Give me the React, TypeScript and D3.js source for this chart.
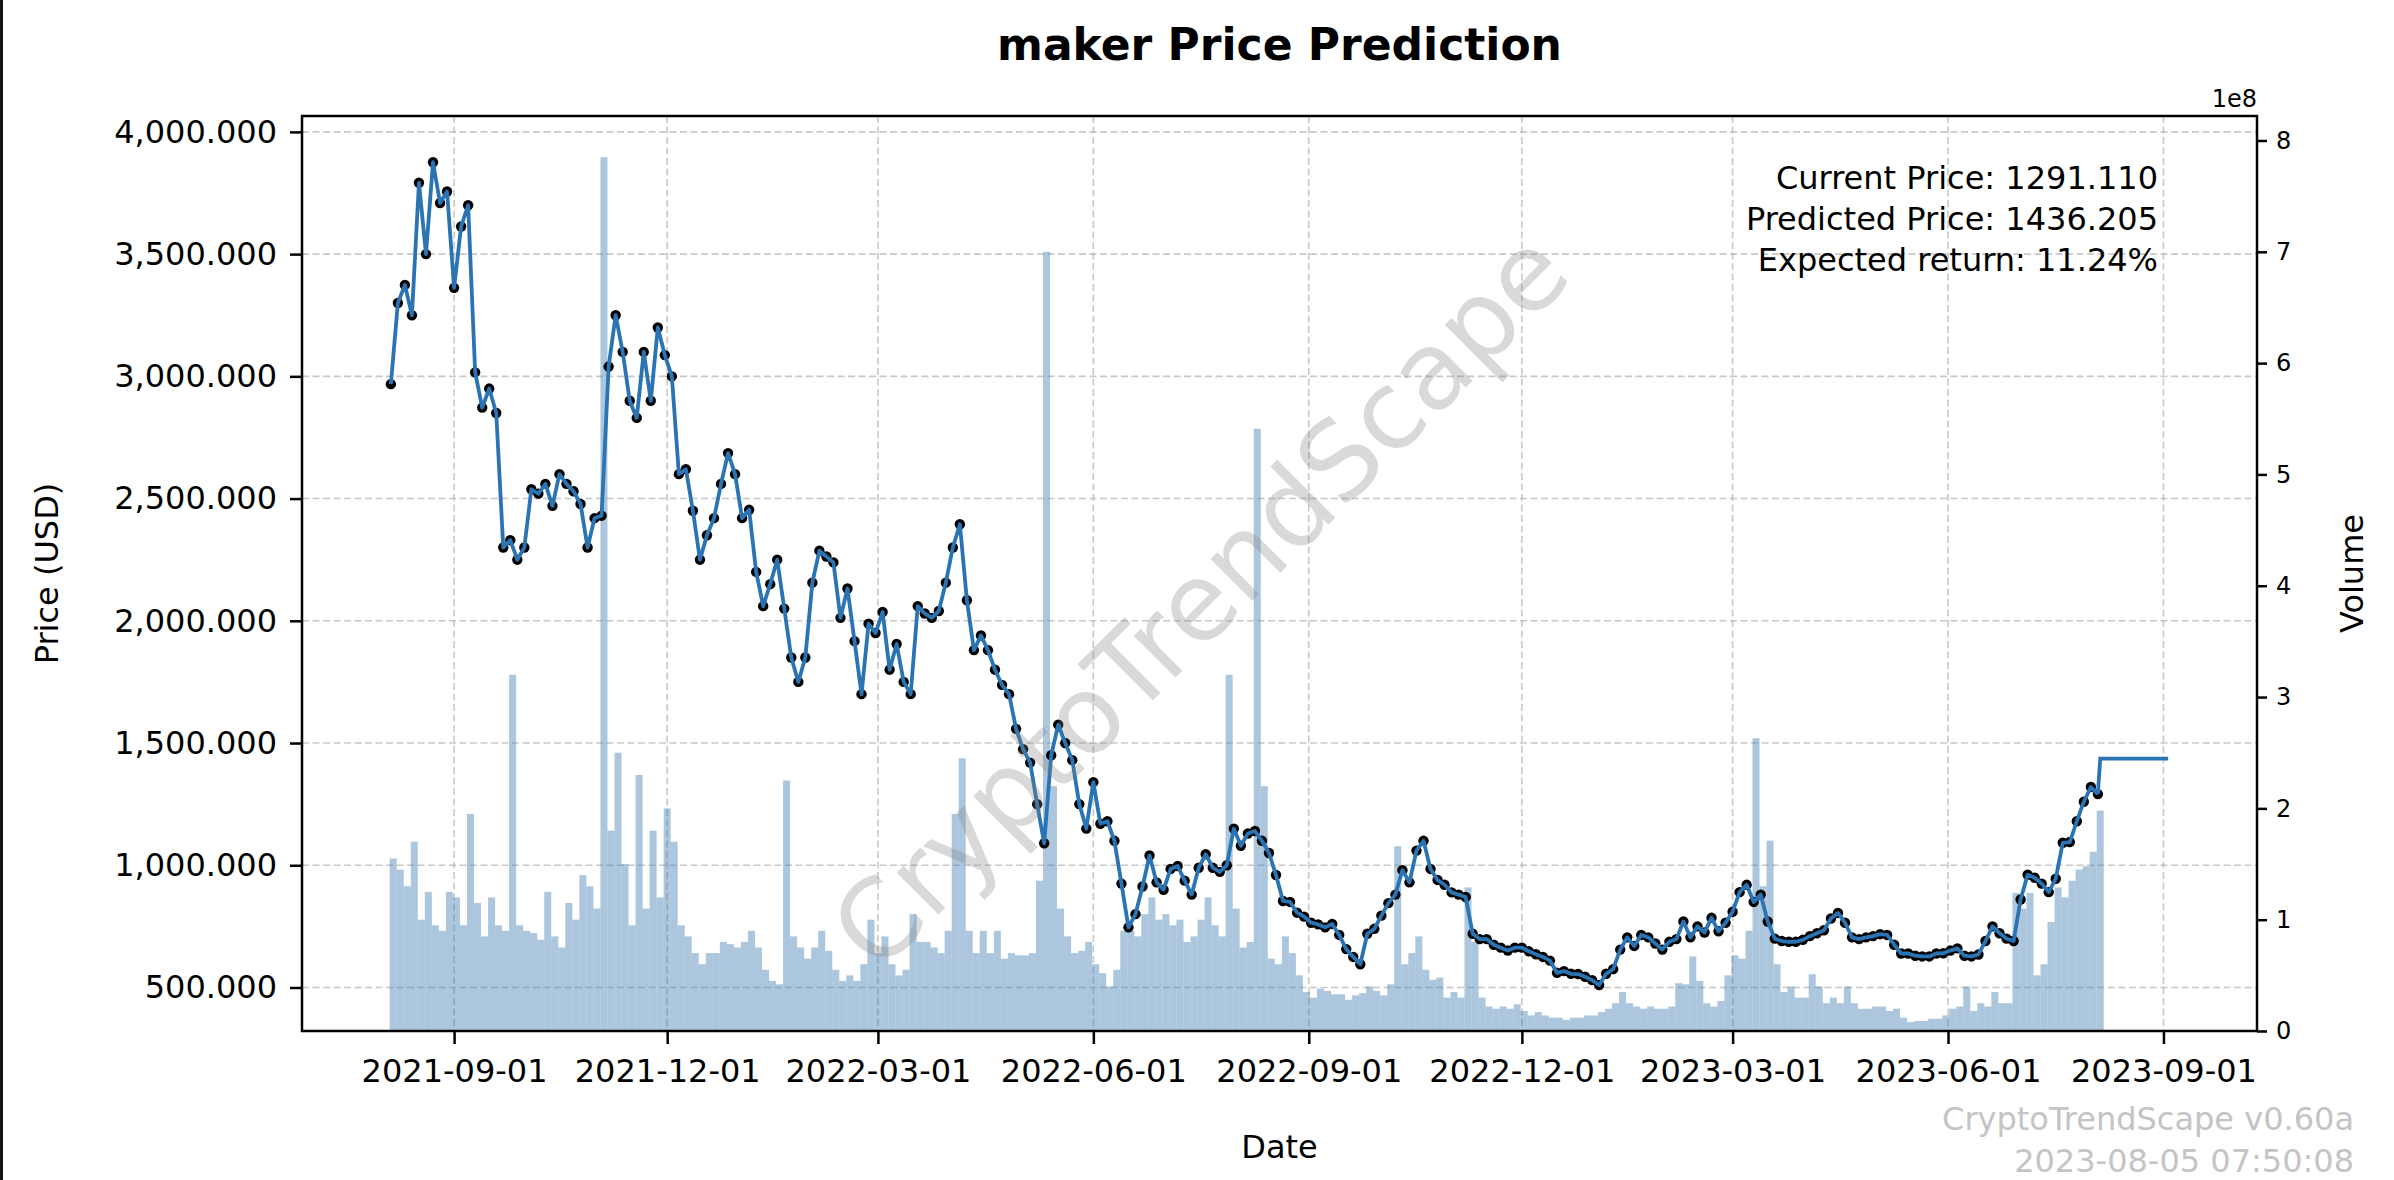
import * as d3 from 'd3';
import { useRef, useEffect } from 'react';

// one sample every 3 days
const START_DATE = '2021-08-05';
const STEP_DAYS = 3;

const prices = [
  2968, 3300, 3374, 3250, 3792, 3500, 3876, 3709, 3756, 3362,
  3613, 3700, 3016, 2872, 2950, 2850, 2300, 2330, 2250, 2300,
  2538, 2520, 2560, 2470, 2600, 2560, 2530, 2478, 2300, 2420,
  2430, 3040, 3250, 3100, 2900, 2830, 3100, 2900, 3200, 3087,
  3000, 2600, 2620, 2450, 2250, 2350, 2420, 2560, 2686, 2600,
  2420, 2454, 2200, 2060, 2150, 2250, 2050, 1850, 1750, 1850,
  2156, 2287, 2263, 2239, 2012, 2132, 1917, 1700, 1988, 1950,
  2036, 1800, 1905, 1750, 1700, 2060, 2030, 2012, 2040, 2156,
  2300, 2395, 2084, 1880, 1940, 1880, 1800, 1738, 1700, 1558,
  1475, 1420, 1250, 1090, 1450, 1575, 1500, 1430, 1250, 1150,
  1340, 1170, 1180, 1100, 925, 746, 800, 913, 1040, 930,
  900, 985, 997, 937, 880, 990, 1045, 990, 973, 1000,
  1150, 1080, 1130, 1140, 1100, 1050, 960, 854, 850, 806,
  790, 765, 758, 746, 760, 715, 657, 625, 595, 720,
  740, 794, 845, 880, 980, 930, 1060, 1100, 985, 940,
  920, 889, 880, 870, 720, 698, 698, 675, 663, 651,
  663, 663, 648, 636, 625, 610, 560, 567, 556, 555,
  544, 530, 510, 556, 575, 655, 705, 670, 715, 705,
  680, 655, 687, 698, 770, 705, 750, 725, 785, 730,
  765, 810, 890, 920, 850, 880, 770, 700, 690, 687,
  687, 695, 710, 722, 734, 782, 805, 765, 705, 698,
  705, 710, 718, 715, 675, 639, 639, 630, 627, 627,
  639, 640, 651, 660, 630, 627, 635, 690, 750, 722,
  700, 690, 860, 961, 949, 925, 890, 945, 1092, 1095,
  1180, 1260, 1320, 1291.11,
];

// volume in units of 1e8, same 3-day steps
const volumesE8 = [
  1.55, 1.45, 1.3, 1.7, 1.0, 1.25, 0.95, 0.9, 1.25, 1.2,
  0.95, 1.95, 1.15, 0.85, 1.2, 0.95, 0.9, 3.2, 0.95, 0.9,
  0.88, 0.82, 1.25, 0.85, 0.75, 1.15, 1.0, 1.4, 1.3, 1.1,
  7.85, 1.8, 2.5, 1.5, 0.95, 2.3, 1.1, 1.8, 1.2, 2.0,
  1.7, 0.95, 0.85, 0.7, 0.6, 0.7, 0.7, 0.8, 0.78, 0.75,
  0.8, 0.9, 0.75, 0.55, 0.45, 0.42, 2.25, 0.85, 0.75, 0.65,
  0.75, 0.9, 0.72, 0.55, 0.45, 0.5, 0.45, 0.6, 1.0, 0.7,
  0.85, 0.6, 0.5, 0.55, 1.05, 0.8, 0.8, 0.75, 0.7, 0.9,
  1.95, 2.45, 0.9, 0.7, 0.9, 0.7, 0.9, 0.65, 0.7, 0.68,
  0.68, 0.7, 1.35, 7.0, 2.2, 1.1, 0.85, 0.7, 0.72, 0.8,
  0.6, 0.52, 0.4, 0.55, 0.9, 0.9, 0.85, 1.05, 1.2, 1.0,
  1.05, 0.95, 1.0, 0.8, 0.85, 1.0, 1.2, 0.95, 0.85, 3.2,
  1.1, 0.75, 0.8, 5.41, 2.2, 0.65, 0.6, 0.85, 0.7, 0.5,
  0.35, 0.3, 0.38, 0.36, 0.33, 0.33, 0.28, 0.32, 0.34, 0.4,
  0.36, 0.32, 0.42, 1.66, 0.6, 0.7, 0.85, 0.55, 0.46, 0.48,
  0.3, 0.35, 0.3, 1.29, 0.8, 0.3, 0.22, 0.2, 0.22, 0.2,
  0.24, 0.18, 0.14, 0.17, 0.14, 0.12, 0.12, 0.1, 0.12, 0.12,
  0.14, 0.14, 0.17, 0.2, 0.25, 0.35, 0.25, 0.22, 0.2, 0.22,
  0.2, 0.2, 0.22, 0.43, 0.42, 0.67, 0.45, 0.25, 0.22, 0.27,
  0.5, 0.68, 0.65, 0.9, 2.63, 1.3, 1.71, 0.6, 0.35, 0.4,
  0.3, 0.3, 0.51, 0.4, 0.25, 0.3, 0.25, 0.4, 0.25, 0.2,
  0.2, 0.22, 0.22, 0.18, 0.2, 0.12, 0.08, 0.09, 0.09, 0.11,
  0.11, 0.14, 0.2, 0.22, 0.4, 0.18, 0.25, 0.22, 0.35, 0.25,
  0.25, 1.24, 1.1, 1.24, 0.5, 0.6, 0.98, 1.29, 1.2, 1.35,
  1.45, 1.48, 1.61, 1.98,
];

const predictionDates = ['2023-08-05', '2023-09-03'];
const predictedPrice = 1436.205;

const xTickLabels = [
  '2021-09-01', '2021-12-01', '2022-03-01', '2022-06-01', '2022-09-01',
  '2022-12-01', '2023-03-01', '2023-06-01', '2023-09-01',
];
const priceTicks = [500, 1000, 1500, 2000, 2500, 3000, 3500, 4000];
const volumeTicks = [0, 1, 2, 3, 4, 5, 6, 7, 8];
const priceDomain = [322, 4065];
const volumeDomainE8 = [0, 8.22];

const annotationLines = [
  'Current Price: 1291.110',
  'Predicted Price: 1436.205',
  'Expected return: 11.24%',
];
const footerLines = ['CryptoTrendScape v0.60a', '2023-08-05 07:50:08'];

const W = 2394;
const H = 1180;
const plot = { left: 302, right: 2257, top: 116, bottom: 1031 };
const FONT = '"DejaVu Sans", sans-serif';

const utc = (s: string) => new Date(s + 'T00:00:00Z');

const App = () => {
  const ref = useRef<SVGSVGElement>(null);

  useEffect(() => {
    if (!ref.current) return;

    const svg = d3.select(ref.current)
      .attr('width', W)
      .attr('height', H)
      .style('font-family', FONT);

    svg.selectAll('*').remove();

    const start = utc(START_DATE);
    const dates = prices.map((_, i) => d3.utcDay.offset(start, i * STEP_DAYS));
    const predDates = predictionDates.map(utc);

    // matplotlib-like 5% margins on the date range
    const t0 = +dates[0];
    const t1 = +predDates[1];
    const pad = (t1 - t0) * 0.05;
    const x = d3.scaleUtc()
      .domain([new Date(t0 - pad), new Date(t1 + pad)])
      .range([plot.left, plot.right]);
    const y = d3.scaleLinear().domain(priceDomain).range([plot.bottom, plot.top]);
    const yVol = d3.scaleLinear().domain(volumeDomainE8).range([plot.bottom, plot.top]);

    svg.append('rect').attr('width', W).attr('height', H).attr('fill', '#fff');
    // dark edge on the left of the screenshot
    svg.append('rect').attr('width', 3).attr('height', H).attr('fill', '#111');

    const xTicks = xTickLabels.map(utc);

    // grid
    const grid = svg.append('g')
      .attr('stroke', '#b0b0b0')
      .attr('stroke-opacity', 0.7)
      .attr('stroke-width', 1.6)
      .attr('stroke-dasharray', '7,3.5');
    grid.selectAll('line.gx')
      .data(xTicks)
      .join('line')
        .attr('class', 'gx')
        .attr('x1', d => x(d)).attr('x2', d => x(d))
        .attr('y1', plot.top).attr('y2', plot.bottom);
    grid.selectAll('line.gy')
      .data(priceTicks)
      .join('line')
        .attr('class', 'gy')
        .attr('x1', plot.left).attr('x2', plot.right)
        .attr('y1', d => y(d)).attr('y2', d => y(d));

    // volume bars (each covers 3 days)
    svg.append('g')
      .attr('fill', '#4682b4')
      .attr('fill-opacity', 0.45)
      .selectAll('rect')
      .data(volumesE8)
      .join('rect')
        .attr('x', (d, i) => x(d3.utcHour.offset(dates[i], -12)))
        .attr('width', (d, i) => x(d3.utcHour.offset(dates[i], 60)) - x(d3.utcHour.offset(dates[i], -12)))
        .attr('y', d => yVol(d))
        .attr('height', d => plot.bottom - yVol(d));

    // markers, then line on top
    svg.append('g')
      .attr('fill', '#000')
      .selectAll('circle')
      .data(prices)
      .join('circle')
        .attr('cx', (d, i) => x(dates[i]))
        .attr('cy', d => y(d))
        .attr('r', 5.2);

    const line = d3.line<[Date, number]>().x(d => x(d[0])).y(d => y(d[1]));
    const series: [Date, number][] = prices.map((p, i) => [dates[i], p]);
    svg.append('path')
      .attr('d', line(series))
      .attr('fill', 'none')
      .attr('stroke', '#2a74b4')
      .attr('stroke-width', 3.8)
      .attr('stroke-linejoin', 'round');

    const lastIdx = prices.length - 1;
    const pred: [Date, number][] = [
      [dates[lastIdx], prices[lastIdx]],
      [predDates[0], predictedPrice],
      [predDates[1], predictedPrice],
    ];
    svg.append('path')
      .attr('d', line(pred))
      .attr('fill', 'none')
      .attr('stroke', '#2a74b4')
      .attr('stroke-width', 3.8);

    // frame
    svg.append('rect')
      .attr('x', plot.left).attr('y', plot.top)
      .attr('width', plot.right - plot.left).attr('height', plot.bottom - plot.top)
      .attr('fill', 'none').attr('stroke', '#000').attr('stroke-width', 2.5);

    // axes
    const styleAxis = (g, size) => {
      g.select('.domain').remove();
      g.attr('font-family', FONT).attr('font-size', size);
      g.selectAll('.tick line').attr('stroke', '#000').attr('stroke-width', 2.5);
      g.selectAll('.tick text').attr('fill', '#000');
    };

    svg.append('g')
      .attr('transform', `translate(${plot.left},0)`)
      .call(d3.axisLeft(y).tickValues(priceTicks).tickFormat(d3.format(',.3f')).tickSize(12).tickPadding(13))
      .call(g => styleAxis(g, 32));

    svg.append('g')
      .attr('transform', `translate(0,${plot.bottom})`)
      .call(d3.axisBottom(x).tickValues(xTicks).tickFormat((d, i) => xTickLabels[i]).tickSize(13).tickPadding(15))
      .call(g => styleAxis(g, 32));

    svg.append('g')
      .attr('transform', `translate(${plot.right},0)`)
      .call(d3.axisRight(yVol).tickValues(volumeTicks).tickFormat(d => String(d)).tickSize(10).tickPadding(9))
      .call(g => styleAxis(g, 24));

    svg.append('text')
      .attr('x', plot.right).attr('y', 107)
      .attr('text-anchor', 'end').attr('font-size', 24)
      .text('1e8');

    // labels
    svg.append('text')
      .attr('x', (plot.left + plot.right) / 2).attr('y', 60)
      .attr('text-anchor', 'middle').attr('font-size', 44).attr('font-weight', 'bold')
      .text('maker Price Prediction');

    svg.append('text')
      .attr('x', (plot.left + plot.right) / 2).attr('y', 1158)
      .attr('text-anchor', 'middle').attr('font-size', 32)
      .text('Date');

    svg.append('text')
      .attr('transform', `translate(47,${(plot.top + plot.bottom) / 2}) rotate(-90)`)
      .attr('text-anchor', 'middle').attr('dominant-baseline', 'central').attr('font-size', 32)
      .text('Price (USD)');

    svg.append('text')
      .attr('transform', `translate(2352,${(plot.top + plot.bottom) / 2}) rotate(-90)`)
      .attr('text-anchor', 'middle').attr('dominant-baseline', 'central').attr('font-size', 32)
      .text('Volume');

    svg.append('g')
      .attr('font-size', 32)
      .attr('text-anchor', 'end')
      .selectAll('text')
      .data(annotationLines)
      .join('text')
        .attr('x', 2158)
        .attr('y', (d, i) => 189 + i * 41)
        .text(d => d);

    // watermark
    svg.append('text')
      .attr('transform', 'translate(1200,600) rotate(-45)')
      .attr('text-anchor', 'middle').attr('dominant-baseline', 'central')
      .attr('font-size', 108).attr('fill', '#808080').attr('fill-opacity', 0.3)
      .text('CryptoTrendScape');

    svg.append('g')
      .attr('font-size', 32)
      .attr('text-anchor', 'end')
      .attr('fill', '#c4c4c4')
      .selectAll('text')
      .data(footerLines)
      .join('text')
        .attr('x', 2354)
        .attr('y', (d, i) => 1130 + i * 42)
        .text(d => d);
  }, []);

  return <svg ref={ref} style={{ position: 'absolute', left: 0, top: 0 }}></svg>;
};

export default App;
